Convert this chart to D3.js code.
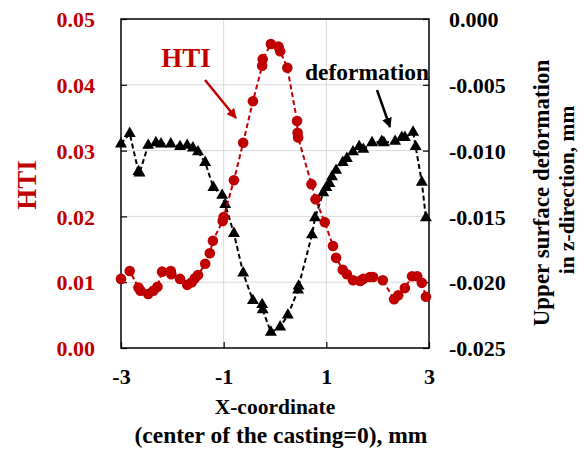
<!DOCTYPE html>
<html>
<head>
<meta charset="utf-8">
<script src="https://cdn.jsdelivr.net/npm/d3@7"></script>
<style>
  body { margin: 0; background: #fff; }
  text { font-family: "Times New Roman", "Liberation Serif", serif; font-weight: bold; }
</style>
</head>
<body>
<div id="chart"></div>
<script>
"use strict";

// HTI along x (red circles, left axis)
const htiX = [-3.00, -2.83, -2.66, -2.62, -2.47, -2.37, -2.29, -2.20, -2.03, -2.02, -1.85, -1.71, -1.62, -1.56, -1.50,
              -1.36, -1.27, -1.21, -1.02, -1.00, -0.80, -0.62, -0.43, -0.25, -0.24, -0.08, 0.07, 0.10, 0.24, 0.43,
              0.44, 0.45, 0.71, 0.79, 0.97, 1.13, 1.19, 1.32, 1.40, 1.52, 1.66, 1.72, 1.85, 1.91, 2.10, 2.32, 2.40,
              2.53, 2.67, 2.77, 2.86, 2.94];
const htiY = [0.0105, 0.0117, 0.0092, 0.0087, 0.0082, 0.0087, 0.0093, 0.0116, 0.0117, 0.0112, 0.0105, 0.0096, 0.0100, 0.0106, 0.0111,
              0.0128, 0.0144, 0.0163, 0.0193, 0.0199, 0.0255, 0.0312, 0.0375, 0.0429, 0.0439, 0.0462, 0.0458, 0.0451, 0.0426, 0.0345,
              0.0327, 0.0320, 0.0249, 0.0226, 0.0191, 0.0155, 0.0137, 0.0119, 0.0112, 0.0103, 0.0102, 0.0105, 0.0108, 0.0108, 0.0103, 0.0074, 0.0080,
              0.0091, 0.0109, 0.0109, 0.0099, 0.0078];

// deformation along x (black triangles, right axis)
const defX = [-3.00, -2.83, -2.66, -2.64, -2.47, -2.32, -2.22, -2.03, -1.85, -1.71, -1.60, -1.50, -1.36, -1.20, -1.03, -0.97,
              -0.80, -0.62, -0.43, -0.25, -0.24, -0.08, 0.10, 0.25, 0.45, 0.46, 0.72, 0.78, 0.94, 1.00, 1.06, 1.11, 1.19,
              1.32, 1.40, 1.52, 1.64, 1.72, 1.89, 2.08, 2.12, 2.34, 2.47, 2.53, 2.69, 2.74, 2.86, 2.94];
const defY = [-0.0095, -0.0087, -0.0116, -0.0117, -0.0096, -0.0094, -0.0095, -0.0095, -0.0097, -0.0096, -0.0098, -0.0101, -0.0109, -0.0128, -0.0134, -0.0141,
              -0.0163, -0.0193, -0.0214, -0.0217, -0.0221, -0.0238, -0.0234, -0.0225, -0.0206, -0.0203, -0.0164, -0.0151, -0.0132, -0.0128, -0.0125, -0.0120, -0.0115,
              -0.0109, -0.0106, -0.0101, -0.0097, -0.0099, -0.0094, -0.0093, -0.0094, -0.0093, -0.0090, -0.0090, -0.0086, -0.0097, -0.0124, -0.0151];

// tick values
const xTicks = [-3, -1, 1, 3];
const leftTicks = [0, 0.01, 0.02, 0.03, 0.04, 0.05];
const rightTicks = [-0.025, -0.02, -0.015, -0.01, -0.005, 0];

const red = "#c00000";
const width = 584, height = 451;
const box = { left: 121, right: 429, top: 19, bottom: 348 };

const svg = d3.select("#chart").append("svg")
    .attr("width", width)
    .attr("height", height);

const x = d3.scaleLinear().domain([-3, 3]).range([box.left, box.right]);
const yL = d3.scaleLinear().domain([0, 0.05]).range([box.bottom, box.top]);
const yR = d3.scaleLinear().domain([-0.025, 0]).range([box.bottom, box.top]);

//gridlines
const grid = svg.append("g").attr("stroke", "#d9d9d9").attr("stroke-width", 1);
grid.selectAll("line.h")
    .data(leftTicks.slice(1, -1))
    .enter().append("line")
    .attr("x1", box.left).attr("x2", box.right)
    .attr("y1", d => yL(d)).attr("y2", d => yL(d));
grid.selectAll("line.v")
    .data(xTicks.slice(1, -1))
    .enter().append("line")
    .attr("y1", box.top).attr("y2", box.bottom)
    .attr("x1", d => x(d)).attr("x2", d => x(d));

//axes with inward ticks
const axisStyle = g => {
    g.select(".domain").remove();
    g.selectAll(".tick line").attr("stroke", "#000").attr("stroke-width", 1.2);
    g.selectAll(".tick text").style("font-family", "'Times New Roman', 'Liberation Serif', serif")
        .style("font-weight", "bold").style("font-size", "22px");
};

svg.append("g")
    .attr("transform", `translate(${box.left},0)`)
    .call(d3.axisLeft(yL).tickValues(leftTicks).tickSize(-6).tickPadding(26).tickFormat(d3.format(".2f")))
    .call(axisStyle)
    .call(g => g.selectAll(".tick text").attr("fill", red).attr("dy", "0.35em"));

svg.append("g")
    .attr("transform", `translate(${box.right},0)`)
    .call(d3.axisRight(yR).tickValues(rightTicks).tickSize(-6).tickPadding(20)
        .tickFormat(d => d === 0 ? "0.000" : d3.format(".3f")(d).replace("−", "-")))
    .call(axisStyle)
    .call(g => g.selectAll(".tick text").attr("fill", "#000").attr("dy", "0.35em"));

svg.append("g")
    .attr("transform", `translate(0,${box.bottom})`)
    .call(d3.axisBottom(x).tickValues(xTicks).tickSize(-6).tickPadding(20).tickFormat(d => d < 0 ? "-" + Math.abs(d) : d))
    .call(axisStyle)
    .call(g => g.selectAll(".tick text").attr("fill", "#000"));

//frame
svg.append("rect")
    .attr("x", box.left).attr("y", box.top)
    .attr("width", box.right - box.left).attr("height", box.bottom - box.top)
    .attr("fill", "none").attr("stroke", "#000").attr("stroke-width", 1.5);

//deformation series
const defData = defX.map((d, i) => [d, defY[i]]);
svg.append("path")
    .datum(defData)
    .attr("fill", "none").attr("stroke", "#000").attr("stroke-width", 2)
    .attr("stroke-dasharray", "5,3")
    .attr("d", d3.line().x(d => x(d[0])).y(d => yR(d[1])));
svg.append("g").selectAll("path")
    .data(defData)
    .enter().append("path")
    .attr("transform", d => `translate(${x(d[0])},${yR(d[1])})`)
    .attr("d", d3.symbol(d3.symbolTriangle, 62))
    .attr("fill", "#000");

//HTI series
const htiData = htiX.map((d, i) => [d, htiY[i]]);
svg.append("path")
    .datum(htiData)
    .attr("fill", "none").attr("stroke", red).attr("stroke-width", 2)
    .attr("stroke-dasharray", "5,3")
    .attr("d", d3.line().x(d => x(d[0])).y(d => yL(d[1])));
svg.append("g").selectAll("circle")
    .data(htiData)
    .enter().append("circle")
    .attr("cx", d => x(d[0])).attr("cy", d => yL(d[1]))
    .attr("r", 5.3)
    .attr("fill", red);

//annotations
const defs = svg.append("defs");
[["arrRed", red], ["arrBlack", "#000"]].forEach(([id, c]) => {
    defs.append("marker").attr("id", id)
        .attr("viewBox", "0 0 10 10").attr("refX", 9).attr("refY", 5)
        .attr("markerWidth", 4).attr("markerHeight", 4).attr("orient", "auto")
        .append("path").attr("d", "M0,0L10,5L0,10Z").attr("fill", c);
});

svg.append("text").attr("x", 186).attr("y", 67).attr("text-anchor", "middle")
    .attr("fill", red).style("font-size", "27px").text("HTI");
svg.append("line").attr("x1", 205).attr("y1", 80).attr("x2", 236).attr("y2", 118)
    .attr("stroke", red).attr("stroke-width", 2.5).attr("marker-end", "url(#arrRed)");

svg.append("text").attr("x", 367).attr("y", 80).attr("text-anchor", "middle")
    .attr("fill", "#000").style("font-size", "23.5px").text("deformation");
svg.append("line").attr("x1", 377).attr("y1", 90).attr("x2", 390).attr("y2", 127)
    .attr("stroke", "#000").attr("stroke-width", 2.5).attr("marker-end", "url(#arrBlack)");

//axis titles
svg.append("text").attr("x", 275).attr("y", 414).attr("text-anchor", "middle")
    .style("font-size", "21.5px").text("X-coordinate");
svg.append("text").attr("x", 281).attr("y", 443).attr("text-anchor", "middle")
    .style("font-size", "23.5px").text("(center of the casting=0), mm");

svg.append("text").attr("transform", "translate(36,185) rotate(-90)").attr("text-anchor", "middle")
    .attr("fill", red).style("font-size", "27px").text("HTI");

svg.append("text").attr("transform", "translate(549,193) rotate(-90)").attr("text-anchor", "middle")
    .style("font-size", "23px").text("Upper surface deformation");
svg.append("text").attr("transform", "translate(574,190) rotate(-90)").attr("text-anchor", "middle")
    .style("font-size", "21.5px").text("in z-direction, mm");
</script>
</body>
</html>
